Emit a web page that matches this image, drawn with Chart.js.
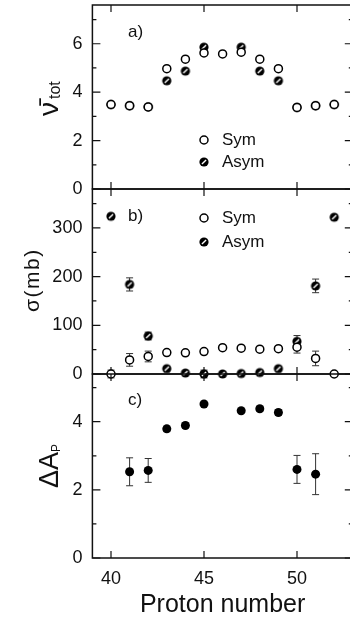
<!DOCTYPE html>
<html><head><meta charset="utf-8">
<script src="https://cdn.jsdelivr.net/npm/chart.js@4/dist/chart.umd.min.js"></script>
<style>
html,body{margin:0;padding:0;background:#fff;overflow:hidden;width:350px;height:622px;position:relative}
canvas{position:absolute;left:0}
</style></head><body>
<canvas id="ca" width="360" height="210" style="top:-8px"></canvas>
<canvas id="cb" width="360" height="211" style="top:176px"></canvas>
<canvas id="cc" width="360" height="261" style="top:361px"></canvas>
<script>
// ---- data ----
const protonNumbers = [40, 41, 42, 43, 44, 45, 46, 47, 48, 49, 50, 51, 52];
const xTickValues = [40, 45, 50];

// panel a: mean total neutron multiplicity
const nuSym  = [3.49, 3.44, 3.39, 4.97, 5.36, 5.62, 5.58, 5.65, 5.36, 4.97, 3.37, 3.44, 3.49];
const nuAsym = [3.49, 3.44, 3.39, 4.47, 4.87, 5.86, null, 5.86, 4.87, 4.47, 3.37, 3.44, 3.49];

// panel b: cross sections (mb)
const sigmaSym     = [0, 29, 36, 44, 43.5, 46, 54, 53, 51, 52, 55, 32, 0];
const sigmaSymErr  = [8, 13, 11, 0, 0, 0, 0, 0, 0, 0, 12, 15, 0];
const sigmaAsym    = [324, 184, 78, 11, 2, 0, 0, 1, 3, 11, 67, 181, 322];
const sigmaAsymErr = [0, 13.5, 8, 0, 0, 8, 0, 0, 0, 0, 12, 14, 0];

// panel c: Delta A_P
const deltaAp    = [null, 2.53, 2.57, 3.79, 3.89, 4.52, null, 4.32, 4.38, 4.27, 2.60, 2.46, null];
const deltaApErr = [0, 0.41, 0.35, 0.08, 0.07, 0, 0, 0, 0.07, 0.08, 0.41, 0.60, 0];

// ---- helpers ----
const FONT = "'Liberation Sans', Arial, sans-serif";
const INK = '#111';

function hatchedMarker(r) {
  const s = Math.ceil(2 * r + 2);
  const c = document.createElement('canvas');
  c.width = s; c.height = s;
  const g = c.getContext('2d');
  const m = s / 2;
  g.fillStyle = '#000';
  g.beginPath(); g.arc(m, m, r, 0, Math.PI * 2); g.fill();
  g.strokeStyle = '#fff'; g.lineWidth = 1.4;
  g.beginPath();
  g.moveTo(m - r * 0.45, m + r * 0.45); g.lineTo(m + r * 0.45, m - r * 0.45);
  g.stroke();
  return c;
}
const hatch = hatchedMarker(4.6);

function pts(vals, errs) {
  const out = [];
  protonNumbers.forEach((x, i) => {
    if (vals[i] !== null && vals[i] !== undefined) out.push({x: x, y: vals[i], err: errs ? errs[i] : 0});
  });
  return out;
}

const frameTicks = {
  id: 'frameTicks',
  beforeDatasetsDraw(chart, args, opts) {
    const {ctx, chartArea: a, scales} = chart;
    const xs = scales.x, ys = scales.y;
    ctx.save();
    ctx.strokeStyle = INK;
    ctx.lineWidth = 1.5;
    ctx.strokeRect(a.left, a.top, a.right - a.left, a.bottom - a.top);
    ctx.lineWidth = 1.2;
    ctx.beginPath();
    for (const v of xTickValues) {
      const px = xs.getPixelForValue(v);
      ctx.moveTo(px, a.top); ctx.lineTo(px, a.top + 7);
      ctx.moveTo(px, a.bottom); ctx.lineTo(px, a.bottom - 7);
    }
    for (let k = 0; k * opts.minor <= ys.max + 1e-9; k++) {
      const v = k * opts.minor;
      const py = ys.getPixelForValue(v);
      const major = (k % 2) === 0;
      const len = major ? 8 : 4;
      ctx.moveTo(a.left, py); ctx.lineTo(a.left + len, py);
      ctx.moveTo(a.right, py); ctx.lineTo(a.right - len, py);
    }
    ctx.stroke();
    // error bars
    ctx.strokeStyle = '#333';
    ctx.lineWidth = 1;
    chart.data.datasets.forEach((ds) => {
      ds.data.forEach((p) => {
        if (!p.err) return;
        const px = xs.getPixelForValue(p.x);
        const y1 = ys.getPixelForValue(p.y + p.err);
        const y2 = ys.getPixelForValue(p.y - p.err);
        ctx.beginPath();
        ctx.moveTo(px, y1); ctx.lineTo(px, y2);
        ctx.moveTo(px - 3.5, y1); ctx.lineTo(px + 3.5, y1);
        ctx.moveTo(px - 3.5, y2); ctx.lineTo(px + 3.5, y2);
        ctx.stroke();
      });
    });
    ctx.restore();
  },
  afterDatasetsDraw(chart, args, opts) {
    const {ctx} = chart;
    const off = chart.canvas.offsetTop;
    ctx.save();
    ctx.fillStyle = INK;
    ctx.textBaseline = 'middle';
    ctx.textAlign = 'left';
    ctx.font = '17px ' + FONT;
    ctx.fillText(opts.label, opts.labelX, opts.labelY - off);
    if (opts.legend) {
      const L = opts.legend;
      ctx.beginPath();
      ctx.arc(L.x, L.y1 - off, 4, 0, Math.PI * 2);
      ctx.fillStyle = '#fff'; ctx.fill();
      ctx.strokeStyle = '#000'; ctx.lineWidth = 1.5; ctx.stroke();
      ctx.drawImage(hatch, L.x - hatch.width / 2, L.y2 - off - hatch.height / 2);
      ctx.fillStyle = INK;
      ctx.fillText('Sym', L.tx, L.y1 - off);
      ctx.fillText('Asym', L.tx, L.y2 - off);
    }
    ctx.translate(opts.title.bx, opts.title.by - off);
    ctx.rotate(-Math.PI / 2);
    ctx.textBaseline = 'alphabetic';
    let cx = 0;
    for (const part of opts.title.parts) {
      ctx.font = part.size + 'px ' + FONT;
      ctx.letterSpacing = (part.ls || 0) + 'px';
      ctx.fillText(part.text, cx, part.dy || 0);
      cx += ctx.measureText(part.text).width;
    }
    ctx.restore();
  }
};

function yScale(max, step) {
  return {
    type: 'linear', min: 0, max: max,
    afterFit: (s) => { s.width = 92.4; s.paddingTop = 0; s.paddingBottom = 0; },
    grid: {display: false, drawTicks: false},
    border: {display: false},
    ticks: {
      stepSize: step, includeBounds: false, padding: 10,
      color: INK, font: {family: FONT, size: 18},
      callback: (v) => (Math.abs(v / step - Math.round(v / step)) < 1e-6 ? v : '')
    }
  };
}

function xScale(show) {
  const s = {
    type: 'linear', min: 39, max: 53, display: show,
    grid: {display: false, drawTicks: false},
    border: {display: false},
    ticks: {stepSize: 5, includeBounds: false, padding: 10, maxRotation: 0,
            color: INK, font: {family: FONT, size: 18}}
  };
  if (show) {
    s.afterFit = (sc) => { sc.height = 64; sc.paddingLeft = 0; sc.paddingRight = 0; };
    s.title = {display: true, text: 'Proton number', color: INK,
               font: {family: FONT, size: 25}, padding: {top: 0, bottom: 2}};
  }
  return s;
}

const common = {
  responsive: false, animation: false, devicePixelRatio: 1,
  plugins: {legend: {display: false}, tooltip: {enabled: false}}
};

const openPt = {pointStyle: 'circle', pointRadius: 4, pointBorderWidth: 1.5,
                pointBorderColor: '#000', pointBackgroundColor: '#fff', showLine: false, clip: false};
const hatchPt = {pointStyle: hatch, pointRadius: 4.6, showLine: false, clip: false};

new Chart(document.getElementById('ca'), {
  type: 'scatter',
  data: {datasets: [
    Object.assign({label: 'Sym', data: pts(nuSym)}, openPt),
    Object.assign({label: 'Asym', data: pts(nuAsym)}, hatchPt)
  ]},
  options: Object.assign({}, common, {
    layout: {padding: {left: 0, right: 7.2, top: 13, bottom: 13}},
    scales: {x: xScale(false), y: yScale(7.6, 2)},
    plugins: Object.assign({}, common.plugins, {
      frameTicks: {minor: 1, label: 'a)', labelX: 128, labelY: 32,
        legend: {x: 204, y1: 140, y2: 162, tx: 222},
        title: {bx: 58, by: 116, parts: [{text: 'ν\u0304', size: 28, ls: 3}, {text: 'tot', size: 16, dy: 2}]}}
    })
  }),
  plugins: [frameTicks]
});

new Chart(document.getElementById('cb'), {
  type: 'scatter',
  data: {datasets: [
    Object.assign({label: 'Sym', data: pts(sigmaSym, sigmaSymErr)}, openPt),
    Object.assign({label: 'Asym', data: pts(sigmaAsym, sigmaAsymErr)}, hatchPt)
  ]},
  options: Object.assign({}, common, {
    layout: {padding: {left: 0, right: 7.2, top: 13, bottom: 13}},
    scales: {x: xScale(false), y: yScale(380, 100)},
    plugins: Object.assign({}, common.plugins, {
      frameTicks: {minor: 50, label: 'b)', labelX: 128, labelY: 216,
        legend: {x: 204, y1: 218, y2: 242, tx: 222},
        title: {bx: 39, by: 312, parts: [{text: 'σ(mb)', size: 21, ls: 1.5}]}}
    })
  }),
  plugins: [frameTicks]
});

new Chart(document.getElementById('cc'), {
  type: 'scatter',
  data: {datasets: [
    {label: 'ΔA_P', data: pts(deltaAp, deltaApErr), pointStyle: 'circle', pointRadius: 4.5,
     pointBorderWidth: 0, pointBackgroundColor: '#000', showLine: false, clip: false}
  ]},
  options: Object.assign({}, common, {
    layout: {padding: {left: 0, right: 7.2, top: 13, bottom: 0}},
    scales: {x: xScale(true), y: yScale(5.4, 2)},
    plugins: Object.assign({}, common.plugins, {
      frameTicks: {minor: 1, label: 'c)', labelX: 128, labelY: 400,
        title: {bx: 58, by: 488, parts: [{text: 'ΔA', size: 27}, {text: 'P', size: 12, dy: 2}]}}
    })
  }),
  plugins: [frameTicks]
});
</script>
</body></html>
